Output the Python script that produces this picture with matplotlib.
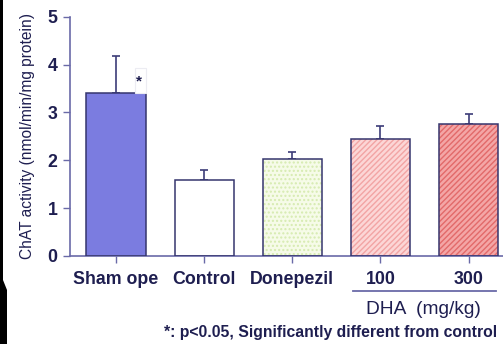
import matplotlib
matplotlib.use('Agg')
import matplotlib.pyplot as plt
from matplotlib.patches import Rectangle, Polygon
import numpy as np

# data
groups = ['Sham ope', 'Control', 'Donepezil', '100', '300']
means = [3.40, 1.58, 2.02, 2.45, 2.75]
sems = [0.78, 0.22, 0.16, 0.27, 0.21]

faces = ['#7b7ce0', '#ffffff', '#f6fbe8', '#fcd6d6', '#f4a6a6']
hatch_cols = ['#7273d8', '#ffffff', '#d6ebb0', '#f2a4a4', '#e26a6a']
hatches = ['', '', '....', '//////', '//////']

navy = '#1e1e50'
axcol = '#6a6aa8'
edge = '#35356e'

plt.rcParams['font.family'] = ['Liberation Sans', 'DejaVu Sans']

fig = plt.figure(figsize=(5.03, 3.44), dpi=100)
ax = fig.add_axes([0.139, 0.256, 0.861, 0.695])

x = np.arange(len(groups))
w = 0.67
# fill + hatch layer
ax.bar(x, means, w, color=faces, edgecolor=hatch_cols, hatch=hatches, linewidth=0, zorder=2)
# outline layer
ax.bar(x, means, w, fill=False, edgecolor=edge, linewidth=1.1, zorder=3)
ax.errorbar(x, means, yerr=[np.zeros(len(x)), sems], fmt='none', ecolor='#3c3c78',
            elinewidth=1.2, capsize=3, capthick=1.2, zorder=1)

ax.set_xlim(-0.523, 4.39)
ax.set_ylim(0, 5)
ax.set_yticks(range(6))
ax.set_xticks(x)
ax.set_xticklabels(groups, fontsize=12.8, fontweight='bold', color=navy)
ax.tick_params(axis='y', labelsize=12.8, labelcolor=navy, color=axcol, length=5, width=1, pad=4)
ax.tick_params(axis='x', color=axcol, length=5, width=1, pad=6)
for lab in ax.get_yticklabels():
    lab.set_fontweight('bold')
for s in ['top', 'right']:
    ax.spines[s].set_visible(False)
for s in ['left', 'bottom']:
    ax.spines[s].set_color(axcol)
    ax.spines[s].set_linewidth(1.2)

ax.set_ylabel('ChAT activity (nmol/min/mg protein)', fontsize=11.2, color=navy, labelpad=9)

# significance star with its little box
ax.add_patch(Rectangle((0.215, 3.40), 0.12, 0.52, facecolor='white', edgecolor='#ececf2',
                       linewidth=0.8, zorder=4))
ax.text(0.255, 3.57, '*', fontsize=11, fontweight='bold', color=navy, ha='center', zorder=5)

# DHA group bracket and notes
fig.add_artist(plt.Line2D([353 / 503, 496 / 503], [1 - 291 / 344] * 2, color=axcol, lw=1.3))
fig.text(423 / 503, 1 - 309 / 344, 'DHA  (mg/kg)', fontsize=13.8, color=navy, ha='center', va='center')
fig.text(497 / 503, 1 - 333 / 344, '*: p<0.05, Significantly different from control',
         fontsize=11.3, fontweight='bold', color=navy, ha='right', va='center')

# dark scan borders
fig.add_artist(Polygon([[0, 1], [3 / 503, 1], [3 / 503, 1 - 280 / 344], [7 / 503, 1 - 290 / 344],
                        [7 / 503, 0], [0, 0]], closed=True, transform=fig.transFigure,
                       facecolor='black', edgecolor='none'))

fig.savefig('out.png', dpi=100, facecolor='white')
